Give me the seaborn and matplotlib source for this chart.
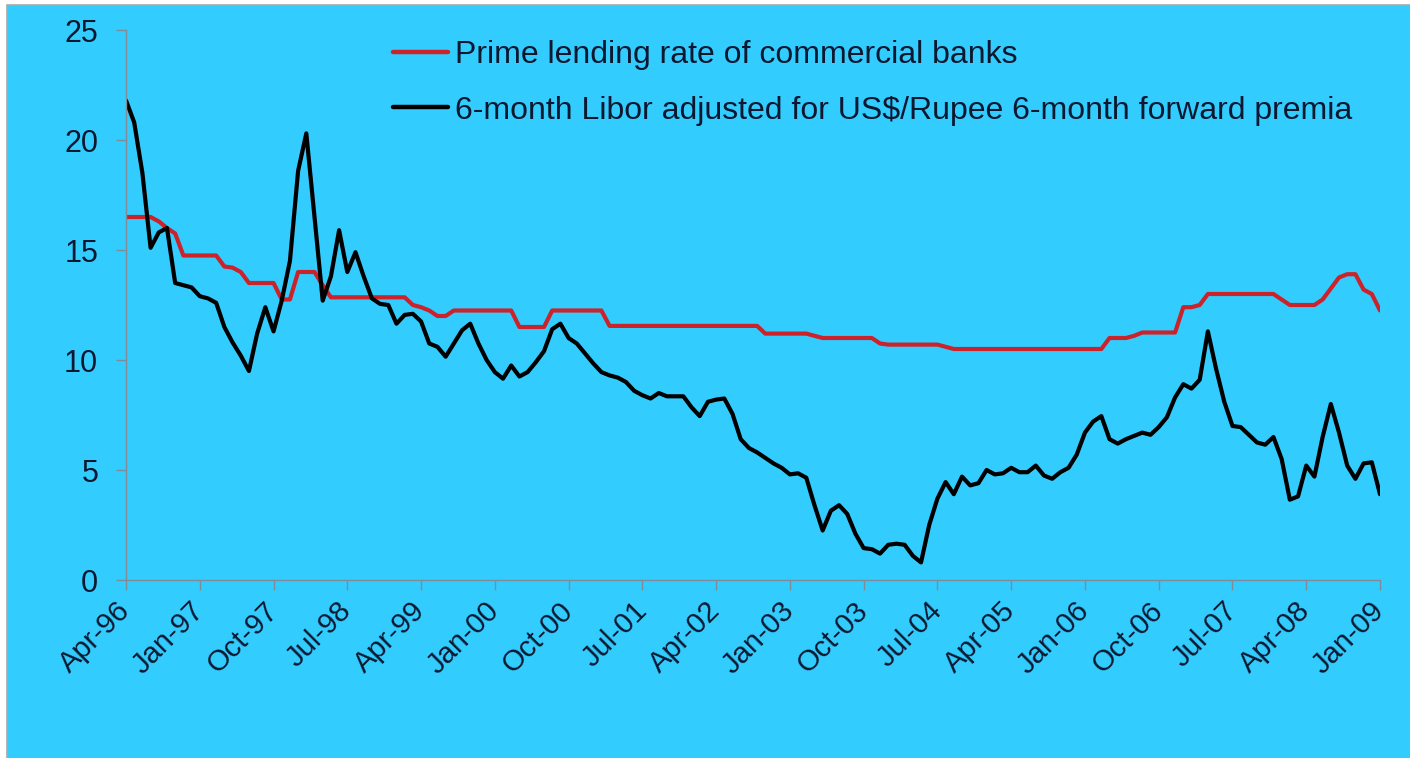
import numpy as np
import pandas as pd
import matplotlib
matplotlib.use("Agg")
import matplotlib.pyplot as plt
import seaborn as sns
from matplotlib.patches import Rectangle

# Monthly observations, April 1996 to January 2009
months = pd.date_range("1996-04-01", "2009-01-01", freq="MS")

prime_lending = [
    16.5, 16.5, 16.5, 16.5, 16.3, 16.0, 15.75, 14.75, 14.75, 14.75,
    14.75, 14.75, 14.25, 14.2, 14.0, 13.5, 13.5, 13.5, 13.5, 12.75,
    12.75, 14.0, 14.0, 14.0, 13.4, 12.85, 12.85, 12.85, 12.85, 12.85,
    12.85, 12.85, 12.85, 12.85, 12.85, 12.5, 12.4, 12.25, 12.0, 12.0,
    12.25, 12.25, 12.25, 12.25, 12.25, 12.25, 12.25, 12.25, 11.5, 11.5,
    11.5, 11.5, 12.25, 12.25, 12.25, 12.25, 12.25, 12.25, 12.25, 11.55,
    11.55, 11.55, 11.55, 11.55, 11.55, 11.55, 11.55, 11.55, 11.55, 11.55,
    11.55, 11.55, 11.55, 11.55, 11.55, 11.55, 11.55, 11.55, 11.2, 11.2,
    11.2, 11.2, 11.2, 11.2, 11.1, 11.0, 11.0, 11.0, 11.0, 11.0,
    11.0, 11.0, 10.75, 10.7, 10.7, 10.7, 10.7, 10.7, 10.7, 10.7,
    10.6, 10.5, 10.5, 10.5, 10.5, 10.5, 10.5, 10.5, 10.5, 10.5,
    10.5, 10.5, 10.5, 10.5, 10.5, 10.5, 10.5, 10.5, 10.5, 10.5,
    11.0, 11.0, 11.0, 11.1, 11.25, 11.25, 11.25, 11.25, 11.25, 12.4,
    12.4, 12.5, 13.0, 13.0, 13.0, 13.0, 13.0, 13.0, 13.0, 13.0,
    13.0, 12.75, 12.5, 12.5, 12.5, 12.5, 12.75, 13.25, 13.75, 13.9,
    13.9, 13.2, 13.0, 12.25,
]

libor_adjusted = [
    21.8, 20.8, 18.5, 15.1, 15.8, 16.0, 13.5, 13.4, 13.3, 12.9,
    12.8, 12.6, 11.5, 10.8, 10.2, 9.5, 11.2, 12.4, 11.3, 12.7,
    14.5, 18.6, 20.3, 16.5, 12.7, 13.8, 15.9, 14.0, 14.9, 13.8,
    12.8, 12.55, 12.5, 11.65, 12.05, 12.1, 11.75, 10.75, 10.6, 10.15,
    10.75, 11.35, 11.65, 10.75, 10.0, 9.45, 9.15, 9.75, 9.25, 9.45,
    9.9, 10.4, 11.4, 11.65, 11.0, 10.75, 10.3, 9.85, 9.45, 9.3,
    9.2, 9.0, 8.6, 8.4, 8.25, 8.5, 8.35, 8.35, 8.35, 7.85,
    7.45, 8.1, 8.2, 8.25, 7.55, 6.4, 6.0, 5.8, 5.55, 5.3,
    5.1, 4.8, 4.85, 4.65, 3.4, 2.25, 3.15, 3.4, 3.0, 2.1,
    1.45, 1.4, 1.2, 1.6, 1.65, 1.6, 1.1, 0.8, 2.5, 3.7,
    4.45, 3.9, 4.7, 4.3, 4.4, 5.0, 4.8, 4.85, 5.1, 4.9,
    4.9, 5.2, 4.75, 4.6, 4.9, 5.1, 5.7, 6.7, 7.2, 7.45,
    6.4, 6.2, 6.4, 6.55, 6.7, 6.6, 6.95, 7.4, 8.3, 8.9,
    8.7, 9.1, 11.3, 9.6, 8.1, 7.0, 6.95, 6.6, 6.25, 6.15,
    6.5, 5.5, 3.65, 3.8, 5.2, 4.7, 6.5, 8.0, 6.7, 5.2,
    4.6, 5.3, 5.35, 3.9,
]

series_names = [
    "Prime lending rate of commercial banks",
    "6-month Libor adjusted for US$/Rupee 6-month forward premia",
]

tick_labels = [
    "Apr-96", "Jan-97", "Oct-97", "Jul-98", "Apr-99", "Jan-00",
    "Oct-00", "Jul-01", "Apr-02", "Jan-03", "Oct-03", "Jul-04",
    "Apr-05", "Jan-06", "Oct-06", "Jul-07", "Apr-08", "Jan-09",
]

y_ticks = [0, 5, 10, 15, 20, 25]

BG = "#33ccff"
RED = "#cc2229"
BLACK = "#000000"
TEXT = "#0c1830"
AXIS = "#7f8c96"

month_labels = list(months.strftime("%b-%y"))
df = pd.DataFrame({
    "pos": np.arange(len(months)),
    series_names[0]: prime_lending,
    series_names[1]: libor_adjusted,
})
long_df = df.melt(id_vars="pos", var_name="series", value_name="rate")

sns.set_theme(style="white")
plt.rcParams["font.family"] = ["Liberation Sans", "DejaVu Sans"]

fig = plt.figure(figsize=(14.1, 7.58), dpi=100)
fig.patch.set_facecolor("white")
fig.patches.append(Rectangle((7 / 1410, -0.01), 1.0, 1 - 5 / 758 + 0.01,
                             transform=fig.transFigure, facecolor=BG,
                             edgecolor="#a9a9a9", linewidth=1.2, zorder=-10))

ax = fig.add_axes([126 / 1410, 1 - 580 / 758, (1380 - 126) / 1410, (580 - 30) / 758])
ax.set_facecolor("none")

sns.lineplot(data=long_df, x="pos", y="rate", hue="series",
             hue_order=series_names, palette=[RED, BLACK],
             linewidth=3.0, ax=ax, legend=True)

ax.set_xlim(0, len(months) - 1)
ax.set_ylim(0, 25)
ax.set_yticks(y_ticks)
ax.set_yticklabels([str(v) for v in y_ticks])
tick_pos = [month_labels.index(lbl) for lbl in tick_labels]
ax.set_xticks(tick_pos)
ax.set_xticklabels(tick_labels, rotation=45, ha="right", va="center",
                   rotation_mode="anchor")
ax.set_xlabel("")
ax.set_ylabel("")

for side in ("top", "right"):
    ax.spines[side].set_visible(False)
for side in ("left", "bottom"):
    ax.spines[side].set_color(AXIS)
    ax.spines[side].set_linewidth(1.0)

ax.tick_params(axis="y", which="major", direction="out", length=7, width=1,
               color=AXIS, labelsize=22, labelcolor=TEXT, pad=13, left=True)
ax.tick_params(axis="x", which="major", direction="out", length=7, width=1,
               color=AXIS, labelsize=21, labelcolor=TEXT, pad=12, bottom=True)

handles, labels = ax.get_legend_handles_labels()
leg = ax.legend(handles, labels, loc="upper left",
                bbox_to_anchor=(393 / 1410, 1 - 40 / 758),
                bbox_transform=fig.transFigure, frameon=False,
                fontsize=23, handlelength=1.72, handletextpad=0.22,
                labelspacing=0.8, borderpad=0, borderaxespad=0)
for txt in leg.get_texts():
    txt.set_color(TEXT)
for line in leg.get_lines():
    line.set_linewidth(3.2)

fig.savefig("out.png", dpi=100, facecolor=fig.get_facecolor())
